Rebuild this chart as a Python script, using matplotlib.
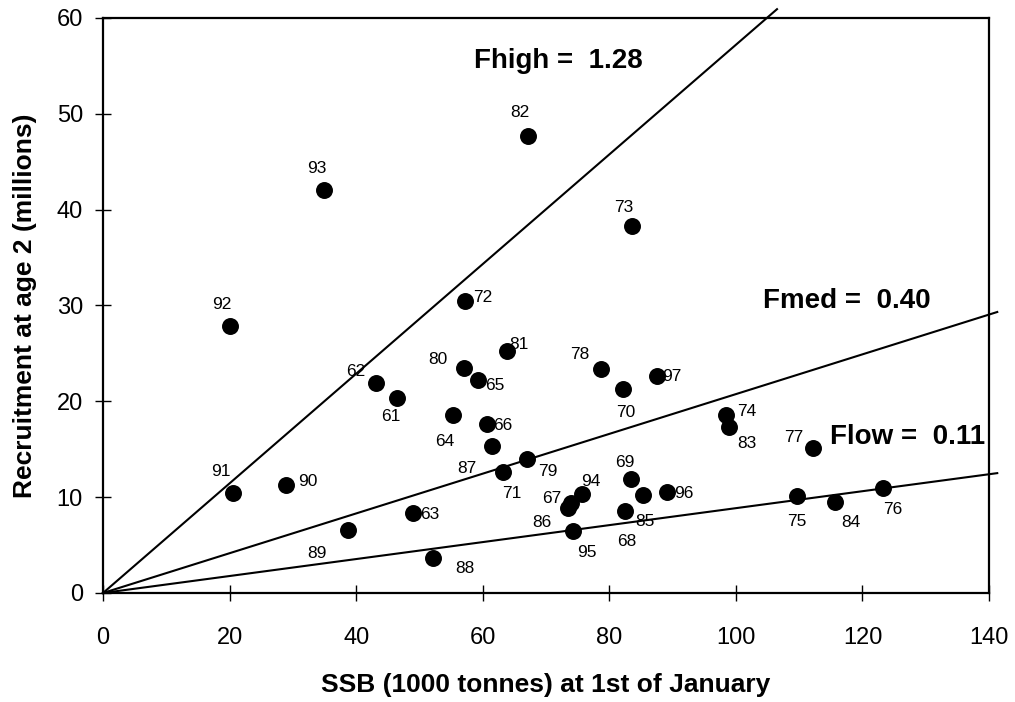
import matplotlib.pyplot as plt
import numpy as np

plt.rcParams['font.family'] = ['Liberation Sans', 'DejaVu Sans']

# stock-recruitment data
years = ['61', '62', '63', '64', '65', '66', '67', '68', '69', '70',
         '71', '72', '73', '74', '75', '76', '77', '78', '79', '80',
         '81', '82', '83', '84', '85', '86', '87', '88', '89', '90',
         '91', '92', '93', '94', '95', '96', '97']
ssb = [46.4, 43.2, 49.0, 55.3, 59.2, 60.6, 74.0, 82.5, 83.5, 82.1,
       63.2, 57.2, 83.6, 98.4, 109.6, 123.2, 112.2, 78.7, 67.0, 57.1,
       63.9, 67.2, 98.9, 115.7, 85.4, 73.5, 61.5, 52.2, 38.7, 28.9,
       20.6, 20.1, 34.9, 75.7, 74.3, 89.1, 87.5]
recruits = [20.3, 21.9, 8.3, 18.6, 22.2, 17.6, 9.4, 8.6, 11.9, 21.3,
            12.6, 30.5, 38.3, 18.6, 10.1, 11.0, 15.1, 23.4, 14.0, 23.5,
            25.2, 47.7, 17.3, 9.5, 10.2, 8.85, 15.3, 3.6, 6.6, 11.3,
            10.4, 27.9, 42.0, 10.3, 6.5, 10.5, 22.6]

# replacement lines R/SSB
f_names = ['Fhigh', 'Fmed', 'Flow']
f_values = ['1.28', '0.40', '0.11']
f_slopes = [0.572, 0.2075, 0.0885]
f_line_end = [106.5, 141.3, 141.3]

# label offsets (points) for each year label
offsets = {
    '61': (-4, -13), '62': (-15, 8), '63': (12, -1), '64': (-6, -19),
    '65': (12, -4), '66': (12, -1), '67': (-14, 3), '68': (1, -22),
    '69': (-5, 12), '70': (2, -17), '71': (6, -15), '72': (13, 2),
    '73': (-6, 13), '74': (15, 2), '75': (0, -18), '76': (7, -16),
    '77': (-14, 8), '78': (-15, 10), '79': (15, -9), '80': (-19, 6),
    '81': (8, 5), '82': (-6, 17), '83': (13, -12), '84': (11, -15),
    '85': (1, -19), '86': (-19, -10), '87': (-18, -16), '88': (23, -7),
    '89': (-22, -17), '90': (16, 2), '91': (-9, 16), '92': (-6, 15),
    '93': (-5, 16), '94': (6, 9), '95': (10, -16), '96': (12, -1),
    '97': (11, 0),
}
f_label_pos = [(58.6, 55.5), (104.3, 30.5), (114.9, 16.3)]

fig = plt.figure(figsize=(10.15, 7.02), dpi=100)
ax = fig.add_axes([0.1015, 0.1553, 0.8729, 0.8191])

for slope, xend in zip(f_slopes, f_line_end):
    xs = np.array([0, xend])
    ax.plot(xs, slope * xs, color='black', lw=1.5, clip_on=False, zorder=2)

ax.scatter(ssb, recruits, s=125, color='black', zorder=3, clip_on=False)

for yr, x, y in zip(years, ssb, recruits):
    ax.annotate(yr, (x, y), xytext=offsets[yr], textcoords='offset points',
                ha='center', va='center', fontsize=12.5)

for name, val, (tx, ty) in zip(f_names, f_values, f_label_pos):
    ax.text(tx, ty, f'{name} =  {val}', fontsize=20, fontweight='bold',
            ha='left', va='center')

ax.set_xlim(0, 140)
ax.set_ylim(0, 60)
ax.set_xticks(np.arange(0, 141, 20))
ax.set_yticks(np.arange(0, 61, 10))
ax.tick_params(axis='both', direction='inout', length=11, width=1, labelsize=17)
ax.tick_params(axis='x', pad=19)
ax.tick_params(axis='y', pad=9)
for sp in ax.spines.values():
    sp.set_linewidth(1.6)

ax.set_xlabel('SSB (1000 tonnes) at 1st of January', fontsize=19,
              fontweight='bold', labelpad=17)
ax.set_ylabel('Recruitment at age 2 (millions)', fontsize=19,
              fontweight='bold', labelpad=14)

fig.savefig('out.png', dpi=100)
